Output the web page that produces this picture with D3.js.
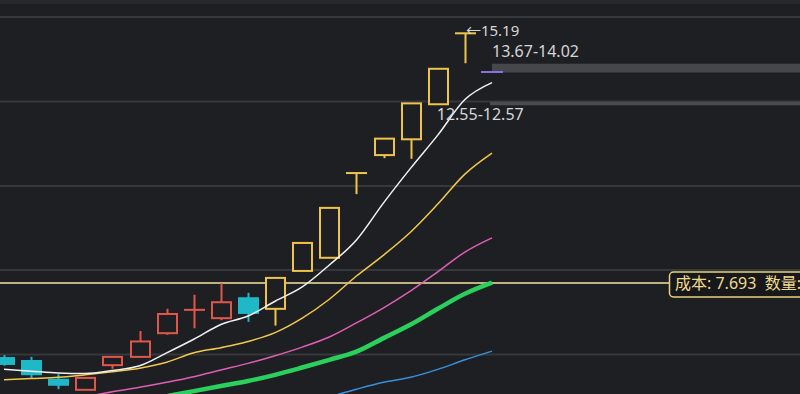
<!DOCTYPE html>
<html>
<head>
<meta charset="utf-8">
<script src="https://cdn.jsdelivr.net/npm/d3@7"></script>
<style>
  html, body { margin: 0; padding: 0; background: #1e1f23; overflow: hidden; }
  svg { display: block; }
</style>
</head>
<body>
<div id="chart"></div>
<script>
// daily candles, left to right (last one is today's flat tick)
let opens  = [6.27, 6.22, 5.91, 5.75, 6.15, 6.29, 6.71, 7.15, 6.99, 7.38, 7.17, 7.95, 8.24, 10.38, 10.90, 11.38, 12.52, 15.19, 13.67];
let highs  = [6.32, 6.29, 6.00, 5.94, 6.29, 6.75, 7.17, 7.45, 7.69, 7.49, 7.80, 8.58, 9.44, 10.38, 11.40, 12.55, 13.79, 15.19, 13.67];
let lows   = [6.14, 5.94, 5.76, 5.75, 6.09, 6.29, 6.68, 6.80, 6.95, 6.92, 6.85, 7.95, 8.24, 9.80, 10.81, 10.79, 12.52, 14.00, 13.67];
let closes = [6.17, 6.00, 5.83, 5.94, 6.29, 6.56, 7.07, 7.15, 7.30, 7.09, 7.80, 8.58, 9.44, 10.38, 11.40, 12.55, 13.79, 15.19, 13.67];
// 0 = red up, 1 = cyan down, 2 = yellow (limit run), 3 = today
let kinds  = [1, 1, 1, 0, 0, 0, 0, 0, 0, 1, 2, 2, 2, 2, 2, 2, 2, 2, 3];

// moving averages
let ma5  = [6.08, 6.05, 6.02, 6.01, 6.06, 6.14, 6.36, 6.60, 6.87, 7.03, 7.32, 7.61, 8.08, 8.65, 9.57, 10.52, 11.51, 12.68, 13.28];
let ma10 = [5.91, 5.93, 5.95, 5.99, 6.04, 6.10, 6.20, 6.36, 6.45, 6.56, 6.72, 6.99, 7.36, 7.84, 8.30, 8.84, 9.54, 10.35, 10.96];
let ma20 = [5.43, 5.49, 5.56, 5.64, 5.72, 5.79, 5.87, 5.96, 6.07, 6.18, 6.31, 6.46, 6.64, 6.90, 7.19, 7.53, 7.93, 8.37, 8.70];
let ma30 = [5.28, 5.34, 5.40, 5.46, 5.52, 5.58, 5.65, 5.73, 5.81, 5.89, 5.99, 6.11, 6.24, 6.38, 6.62, 6.87, 7.17, 7.47, 7.70];
let ma60 = [null, null, null, null, null, null, null, null, null, null, 5.44, 5.53, 5.64, 5.76, 5.87, 5.95, 6.08, 6.24, 6.39];

let costPrice = 7.693;
let highLabel = "\u219015.19";
let rangeHigh = "13.67-14.02";
let rangeLow  = "12.55-12.57";

let width = 800, height = 394;
let svg = d3.select("#chart").append("svg")
    .attr("width", width)
    .attr("height", height)
    .style("font-family", "'Noto Sans', 'Noto Sans CJK SC', sans-serif");

svg.append("rect").attr("width", width).attr("height", height).attr("fill", "#1e1f23");
svg.append("rect").attr("width", width).attr("height", 4).attr("fill", "#27282c");

let x = d3.scaleLinear().domain([0, closes.length - 1]).range([4, 492]);
let y = d3.scaleLog().domain([5.685, 15.19]).range([394, 33.3]);
let candleW = 21;

// grid
svg.append("g")
    .selectAll("line")
    .data([17, 101.5, 186, 270, 354.5])
    .enter()
    .append("line")
    .attr("x1", 0).attr("x2", width)
    .attr("y1", d => d).attr("y2", d => d)
    .attr("stroke", "#37383c")
    .attr("stroke-width", 2);

// price band bars on the right
svg.append("rect")
    .attr("x", x(18)).attr("y", y(14.02) + 1)
    .attr("width", width - x(18)).attr("height", y(13.67) - y(14.02) - 0.5)
    .attr("fill", "#46474b");
svg.append("rect")
    .attr("x", x(18) - 2).attr("y", y(12.57) - 1)
    .attr("width", width - x(18) + 2).attr("height", 3.5)
    .attr("fill", "#4b4c50");

// moving average lines
let maList = [
    {v: ma60, c: "#3a8fdc", w: 1.5},
    {v: ma30, c: "#2bcf5c", w: 4.5},
    {v: ma20, c: "#de5fb4", w: 1.5},
    {v: ma10, c: "#f2c94c", w: 1.5},
    {v: ma5,  c: "#f2f2f2", w: 1.5}
];

// cost line under the lines
svg.append("line")
    .attr("x1", 0).attr("x2", 669)
    .attr("y1", y(costPrice)).attr("y2", y(costPrice))
    .attr("stroke", "#f3e4a0")
    .attr("stroke-width", 1.5);

let line = d3.line()
    .defined(d => d != null)
    .curve(d3.curveMonotoneX)
    .x((d, i) => x(i))
    .y(d => y(d));

// candles
let colors = ["#e0564b", "#1fb8c8", "#eec44c", "#8a6fe0"];
let g = svg.append("g");
let candles = g.selectAll("g")
    .data(closes.map((c, i) => ({i: i, o: opens[i], h: highs[i], l: lows[i], c: c, k: kinds[i]})))
    .enter()
    .append("g");

candles.filter(d => d.k !== 3)
    .append("line")
    .attr("x1", d => Math.round(x(d.i)) + 0.5).attr("x2", d => Math.round(x(d.i)) + 0.5)
    .attr("y1", d => y(d.h)).attr("y2", d => y(d.l))
    .attr("stroke", d => colors[d.k])
    .attr("stroke-width", 2);

candles.filter(d => d.k !== 3)
    .append("rect")
    .attr("x", d => Math.round(x(d.i)) - candleW / 2 + 1.5)
    .attr("y", d => y(Math.max(d.o, d.c)))
    .attr("width", candleW - 2)
    .attr("height", d => Math.max(0.01, y(Math.min(d.o, d.c)) - y(Math.max(d.o, d.c))))
    .attr("fill", d => d.k === 1 ? colors[1] : "#1e1f23")
    .attr("stroke", d => colors[d.k])
    .attr("stroke-width", 2);

candles.filter(d => d.k === 3)
    .append("line")
    .attr("x1", d => x(d.i) - 11).attr("x2", d => x(d.i) + 11)
    .attr("y1", d => y(d.c)).attr("y2", d => y(d.c))
    .attr("stroke", colors[3])
    .attr("stroke-width", 2);

svg.append("g")
    .selectAll("path")
    .data(maList)
    .enter()
    .append("path")
    .attr("d", d => line(d.v))
    .attr("fill", "none")
    .attr("stroke", d => d.c)
    .attr("stroke-width", d => d.w)
    .attr("stroke-linejoin", "round");

// text labels
svg.append("text")
    .attr("x", x(17) + 1).attr("y", y(15.19) - 1)
    .attr("dominant-baseline", "middle")
    .attr("fill", "#d6d6d6")
    .style("font-size", "15px")
    .text(highLabel);

svg.append("text")
    .attr("x", x(18)).attr("y", y(14.02) - 10)
    .attr("dominant-baseline", "middle")
    .attr("fill", "#d6d6d6")
    .style("font-size", "16px")
    .text(rangeHigh);

svg.append("text")
    .attr("x", x(16) - 1).attr("y", y(12.57) + 13)
    .attr("dominant-baseline", "middle")
    .attr("fill", "#d6d6d6")
    .style("font-size", "16px")
    .text(rangeLow);

// cost label
let cy = y(costPrice);
svg.append("rect")
    .attr("x", 669.5).attr("y", cy - 11)
    .attr("width", 150).attr("height", 25)
    .attr("rx", 4)
    .attr("fill", "#17181b")
    .attr("stroke", "#e9d27c")
    .attr("stroke-width", 1.5);
svg.append("text")
    .attr("x", 675).attr("y", cy + 1.5)
    .attr("dominant-baseline", "middle")
    .attr("fill", "#f1da8e")
    .style("font-size", "16px")
    .attr("xml:space", "preserve")
    .text("成本: " + costPrice + "  数量:");
</script>
</body>
</html>
